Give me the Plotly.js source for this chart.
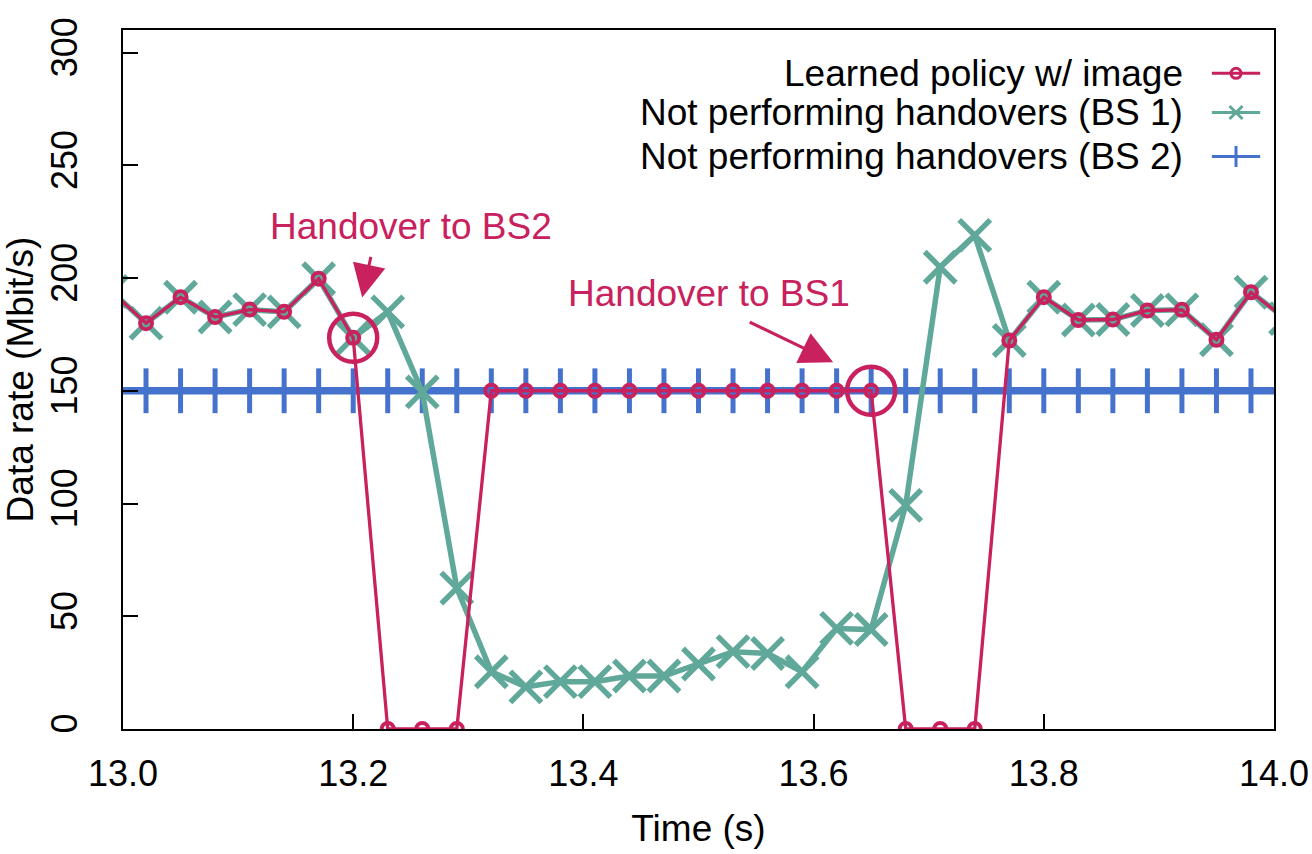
<!DOCTYPE html>
<html>
<head>
<meta charset="utf-8">
<script src="https://cdn.plot.ly/plotly-3.0.1.min.js"></script>
<style>
  html, body { margin: 0; padding: 0; background: #ffffff; }
  #chart { width: 1312px; height: 854px; }
</style>
</head>
<body>
<div id="chart"></div>
<script>
// ---- data ----
const timeS = [12.99, 13.02, 13.05, 13.08, 13.11, 13.14, 13.17, 13.20, 13.23, 13.26,
               13.29, 13.32, 13.35, 13.38, 13.41, 13.44, 13.47, 13.50, 13.53, 13.56,
               13.59, 13.62, 13.65, 13.68, 13.71, 13.74, 13.77, 13.80, 13.83, 13.86,
               13.89, 13.92, 13.95, 13.98, 14.01];

const learnedPolicy = [194, 180, 191.5, 182.7, 186, 185, 199.7, 173.5, 0, 0,
                       0, 150, 150, 150, 150, 150, 150, 150, 150, 150,
                       150, 150, 150, 0, 0, 0, 172.3, 191.5, 181.4, 181.6,
                       185.6, 185.9, 172.6, 193.7, 182];

const noHandoverBS1 = [194, 180, 191.5, 182.7, 186, 185, 199.7, 173.5, 185, 149.5,
                       62.5, 25.4, 18.7, 21, 21, 23.5, 23.5, 28.8, 34.3, 33.5,
                       25.4, 44.6, 44.1, 99.2, 204.8, 218.9, 172.3, 191.5, 181.4, 181.6,
                       185.6, 185.9, 172.6, 193.7, 182];

const noHandoverBS2 = [150, 150, 150, 150, 150, 150, 150, 150, 150, 150,
                       150, 150, 150, 150, 150, 150, 150, 150, 150, 150,
                       150, 150, 150, 150, 150, 150, 150, 150, 150, 150,
                       150, 150, 150, 150, 150];

const seriesNames = ["Learned policy w/ image",
                     "Not performing handovers (BS 1)",
                     "Not performing handovers (BS 2)"];

const handoverTimes = [13.20, 13.65];
const handoverLabels = ["Handover to BS2", "Handover to BS1"];

const xTickVals = [13.0, 13.2, 13.4, 13.6, 13.8, 14.0];
const xTickText = ["13.0", "13.2", "13.4", "13.6", "13.8", "14.0"];
const yTickVals = [0, 50, 100, 150, 200, 250, 300];

// ---- styling ----
const RED = "#c8215d";
const GREEN = "#60a89a";
const BLUE = "#4472cc";
const FONT = "Liberation Sans, Arial, Helvetica, sans-serif";
const FS = 37;
const TFS = 36;

const handoverRates = handoverTimes.map(t => learnedPolicy[timeS.findIndex(v => Math.abs(v - t) < 1e-6)]);

const traces = [
  {
    x: timeS, y: noHandoverBS2, type: "scatter", mode: "lines+markers",
    line: { color: BLUE, width: 7.5 },
    marker: { symbol: "line-ns-open", size: 32, color: BLUE, line: { color: BLUE, width: 5 } },
    showlegend: false, hoverinfo: "skip"
  },
  {
    x: timeS, y: noHandoverBS1, type: "scatter", mode: "lines+markers",
    line: { color: GREEN, width: 5.5 },
    marker: { symbol: "x-thin-open", size: 31, color: GREEN, line: { color: GREEN, width: 5.5 } },
    showlegend: false, hoverinfo: "skip"
  },
  {
    x: timeS, y: learnedPolicy, type: "scatter", mode: "lines+markers",
    line: { color: RED, width: 3.3 },
    marker: { symbol: "circle-open", size: 12, color: RED, line: { color: RED, width: 4 } },
    showlegend: false, hoverinfo: "skip"
  },
  {
    // highlight circles at the handover instants
    x: handoverTimes, y: handoverRates, type: "scatter", mode: "markers",
    marker: { symbol: "circle-open", size: 48, opacity: 1, color: RED, line: { color: RED, width: 4.5 } },
    showlegend: false, hoverinfo: "skip"
  }
];

// ---- custom legend (text left of sample, as in reference) ----
const legendColors = [RED, GREEN, BLUE];
const legendSymbols = ["circle-open", "x-thin-open", "line-ns-open"];
const legendSymSize = [10, 13, 15];
const legendY = [0.938, 0.882, 0.819];
const legendX0 = 0.946, legendX1 = 0.988, legendTextX = 0.923;

for (let i = 0; i < 3; i++) {
  traces.push({
    x: [legendX0, legendX1], y: [legendY[i], legendY[i]],
    xaxis: "x2", yaxis: "y2", type: "scatter", mode: "lines",
    line: { color: legendColors[i], width: 3 }, showlegend: false, hoverinfo: "skip",
    cliponaxis: false
  });
  traces.push({
    x: [(legendX0 + legendX1) / 2], y: [legendY[i]],
    xaxis: "x2", yaxis: "y2", type: "scatter", mode: "markers",
    marker: { symbol: legendSymbols[i], size: legendSymSize[i], color: legendColors[i],
              line: { color: legendColors[i], width: 3 } },
    showlegend: false, hoverinfo: "skip", cliponaxis: false
  });
}

const annotations = [];
for (let i = 0; i < 3; i++) {
  annotations.push({
    xref: "paper", yref: "paper", x: legendTextX, y: legendY[i],
    xanchor: "right", yanchor: "middle", showarrow: false,
    text: seriesNames[i], font: { family: FONT, size: FS, color: "#000000" }
  });
}
// handover labels
const labelPos = [[13.2504, 222.9], [13.5087, 193.2]];
for (let i = 0; i < 2; i++) {
  annotations.push({
    xref: "x", yref: "y", x: labelPos[i][0], y: labelPos[i][1],
    xanchor: "center", yanchor: "middle", showarrow: false,
    text: handoverLabels[i], font: { family: FONT, size: FS, color: RED }
  });
}
// arrows
const arrowTips = [[13.2078, 191.4, 9, -42], [13.617, 162.6, -85, -41]];
for (const a of arrowTips) {
  annotations.push({
    xref: "x", yref: "y", x: a[0], y: a[1], ax: a[2], ay: a[3],
    text: "", showarrow: true, arrowhead: 2, arrowsize: 2.2, arrowwidth: 3,
    arrowcolor: RED
  });
}

const layout = {
  width: 1312, height: 854,
  margin: { l: 123, r: 38, t: 30, b: 125, pad: 0 },
  paper_bgcolor: "#ffffff", plot_bgcolor: "#ffffff",
  font: { family: FONT, size: FS, color: "#000000" },
  showlegend: false,
  xaxis: {
    range: [13.0, 14.0], tickvals: xTickVals, ticktext: xTickText,
    ticks: "inside", ticklen: 15, tickwidth: 2, tickcolor: "#000000",
    showline: true, linecolor: "#000000", linewidth: 2, mirror: true,
    showgrid: false, zeroline: false,
    tickfont: { family: FONT, size: TFS, color: "#000000" },
    ticklabelstandoff: 12,
    title: { text: "Time (s)", font: { family: FONT, size: FS, color: "#000000" }, standoff: 22 }
  },
  yaxis: {
    range: [0, 310], tickvals: yTickVals,
    ticks: "inside", ticklen: 15, tickwidth: 2, tickcolor: "#000000",
    showline: true, linecolor: "#000000", linewidth: 2, mirror: true,
    showgrid: false, zeroline: false, tickangle: -90,
    tickfont: { family: FONT, size: TFS, color: "#000000" },
    ticklabelstandoff: 30,
    title: { text: "Data rate (Mbit/s)", font: { family: FONT, size: FS, color: "#000000" }, standoff: 12 }
  },
  xaxis2: { overlaying: "x", range: [0, 1], visible: false, side: "top" },
  yaxis2: { overlaying: "y", range: [0, 1], visible: false, side: "right" },
  annotations: annotations
};

Plotly.newPlot("chart", traces, layout, { staticPlot: true, displayModeBar: false });
</script>
</body>
</html>
